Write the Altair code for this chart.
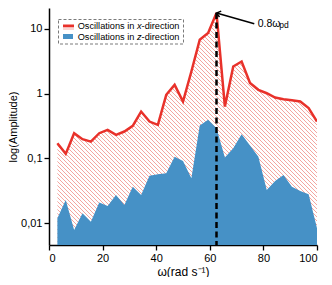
import numpy as np
import pandas as pd
import altair as alt

# ---- data ----
omega = [3.125, 6.25, 9.375, 12.5, 15.625, 18.75, 21.875, 25.0, 28.125, 31.25,
         34.375, 37.5, 40.625, 43.75, 46.875, 50.0, 53.125, 56.25, 59.375, 62.5,
         65.625, 68.75, 71.875, 75.0, 78.125, 81.25, 84.375, 87.5, 90.625, 93.75,
         96.875, 100.0]
amp_x = [0.171, 0.117, 0.244, 0.197, 0.181, 0.244, 0.275, 0.230, 0.259, 0.317,
         0.527, 0.369, 0.328, 0.955, 1.36, 0.752, 2.19, 6.76, 8.58, 17.5,
         0.630, 2.61, 3.12, 1.45, 1.14, 1.01, 0.867, 0.819, 0.785, 0.752,
         0.595, 0.369]
amp_z = [0.0119, 0.0228, 0.00782, 0.0142, 0.0105, 0.0207, 0.0184, 0.0272, 0.0190, 0.0365,
         0.0272, 0.054, 0.0568, 0.0589, 0.106, 0.0912, 0.0492, 0.320, 0.392, 0.292,
         0.1025, 0.143, 0.236, 0.157, 0.106, 0.0325, 0.0448, 0.0554, 0.0365, 0.0313,
         0.0279, 0.0083]
x_ticks = [0, 20, 40, 60, 80, 100]
y_ticks = [0.01, 0.1, 1, 10]
peak_omega = 62.5
peak_amp = 17.5
arrow_tail = (76.6, 11.95)

ymin, ymax = 0.00459, 20.9
W, H = 268, 237
RED = "#e8312a"
BLUE = "#4691c6"
HATCH = "#f29c95"
FONT = "Liberation Sans"

df = pd.DataFrame({"omega": omega, "ax": amp_x, "az": amp_z})

# ---- hatch lines (45 degree, clipped under the x-direction curve) ----
lymin, lymax = np.log10(ymin), np.log10(ymax)
px_per_x = W / 100.0
px_per_dec = H / (lymax - lymin)
s = px_per_x / px_per_dec
dc = 4.0 / px_per_dec
xs = np.linspace(omega[0], omega[-1], 6000)
r = np.interp(xs, omega, np.log10(amp_x))
segs = []
for c in np.arange(lymin, lymax + s * 100 + dc, dc):
    L = c - s * xs
    inside = (L <= r) & (L >= lymin)
    if not inside.any():
        continue
    d = np.diff(inside.astype(int))
    starts = list(np.where(d == 1)[0] + 1)
    ends = list(np.where(d == -1)[0])
    if inside[0]:
        starts = [0] + starts
    if inside[-1]:
        ends = ends + [len(xs) - 1]
    for a, b in zip(starts, ends):
        if b > a:
            segs.append((xs[a], 10 ** L[a], xs[b], 10 ** L[b]))
hdf = pd.DataFrame(segs, columns=["hx", "hy", "hx2", "hy2"])

xscale = alt.Scale(domain=[0, 100], nice=False, zero=False)
yscale = alt.Scale(type="log", domain=[ymin, ymax], nice=False)
xaxis = alt.Axis(values=x_ticks, title="ω(rad s⁻¹)", grid=False)
yaxis = alt.Axis(values=y_ticks, title="log(Amplitude)", grid=False,
                 labelExpr="datum.value >= 1 ? format(datum.value, 'd') : replace(toString(datum.value), '.', ',')")


def X(f):
    return alt.X(f, type="quantitative", scale=xscale, axis=xaxis)


def Y(f):
    return alt.Y(f, type="quantitative", scale=yscale, axis=yaxis)


hatch = alt.Chart(hdf).mark_rule(color=HATCH, strokeWidth=0.9, clip=True).encode(
    x=X("hx"), y=Y("hy"), x2="hx2", y2="hy2")

blue = alt.Chart(df).mark_area(color=BLUE, opacity=1, clip=True).encode(
    x=X("omega"), y=Y("az"), y2=alt.datum(ymin))

red = alt.Chart(df).mark_line(color=RED, strokeWidth=2.5, clip=True).encode(
    x=X("omega"), y=Y("ax"))

pk = pd.DataFrame({"x": [peak_omega], "y": [peak_amp], "tx": [arrow_tail[0]], "ty": [arrow_tail[1]]})
dashed = alt.Chart(pk).mark_rule(color="black", strokeWidth=2.5, strokeDash=[6, 3.5]).encode(
    x=X("x"), y=Y("y"), y2=alt.datum(ymin))
arrow = alt.Chart(pk).mark_rule(color="black", strokeWidth=1.5).encode(
    x=X("x"), y=Y("y"), x2="tx", y2="ty")
head = alt.Chart(pk).mark_point(shape="M-0.65,0.85L0,0L0.65,0.85", filled=False,
                                 color="black", strokeWidth=1.5, size=90, angle=286, opacity=1).encode(
    x=X("x"), y=Y("y"))

one = pd.DataFrame({"a": [0]})
t1 = alt.Chart(one).mark_text(text="0.8ω", font=FONT, fontSize=10.5, align="left",
                              baseline="alphabetic", color="black").encode(x=alt.value(208.7), y=alt.value(18.7))
t2 = alt.Chart(one).mark_text(text="pd", font=FONT, fontSize=8.5, align="left",
                              baseline="alphabetic", color="black").encode(x=alt.value(230.3), y=alt.value(20.4))

# ---- legend ----
box = alt.Chart(one).mark_rect(fill="white", stroke="#7a7a7a", strokeWidth=1, strokeDash=[3, 2]).encode(
    x=alt.value(9.5), x2=alt.value(134.5), y=alt.value(11.5), y2=alt.value(36))
leg_red = alt.Chart(one).mark_rule(color=RED, strokeWidth=3).encode(
    x=alt.value(14), x2=alt.value(25), y=alt.value(18), y2=alt.value(18))
leg_hatch = alt.Chart(one).mark_rect(color="#fbd5d2").encode(
    x=alt.value(14), x2=alt.value(25), y=alt.value(19.5), y2=alt.value(22))
leg_blue = alt.Chart(one).mark_rect(color=BLUE).encode(
    x=alt.value(14), x2=alt.value(24), y=alt.value(26), y2=alt.value(31))

lf = 9.2
w_pre = 6446 * lf / 1000   # width of "Oscillations in "
w_var = 500 * lf / 1000    # width of the italic variable letter
leg_texts = []
for yy, var in [(20.8, "x"), (31.6, "z")]:
    leg_texts.append(alt.Chart(one).mark_text(text="Oscillations in ", font=FONT, fontSize=lf, align="left",
                                              baseline="alphabetic", color="black").encode(
        x=alt.value(28.7), y=alt.value(yy)))
    leg_texts.append(alt.Chart(one).mark_text(text=var, font=FONT, fontSize=lf, fontStyle="italic", align="left",
                                              baseline="alphabetic", color="black").encode(
        x=alt.value(28.7 + w_pre), y=alt.value(yy)))
    leg_texts.append(alt.Chart(one).mark_text(text="-direction", font=FONT, fontSize=lf, align="left",
                                              baseline="alphabetic", color="black").encode(
        x=alt.value(28.7 + w_pre + w_var), y=alt.value(yy)))

chart = alt.layer(hatch, blue, red, dashed, arrow, head, t1, t2, box, leg_red, leg_hatch, leg_blue,
                  *leg_texts).properties(
    width=W, height=H,
    autosize=alt.AutoSizeParams(type="none"),
    padding={"left": 41, "top": 0, "right": 7, "bottom": 32},
).configure_view(stroke=None).configure_axis(
    domainColor="black", domainWidth=1.5, tickColor="black", tickWidth=1.3, tickSize=5,
    labelFont=FONT, labelFontSize=11, labelColor="black", labelPadding=2,
    titleFont=FONT, titleFontSize=12, titleFontWeight="normal", titleColor="black",
).configure_axisX(titlePadding=3).configure_axisY(titlePadding=2, titleFontSize=11)

chart.save("out.html", embed_options={"renderer": "svg", "actions": False})
